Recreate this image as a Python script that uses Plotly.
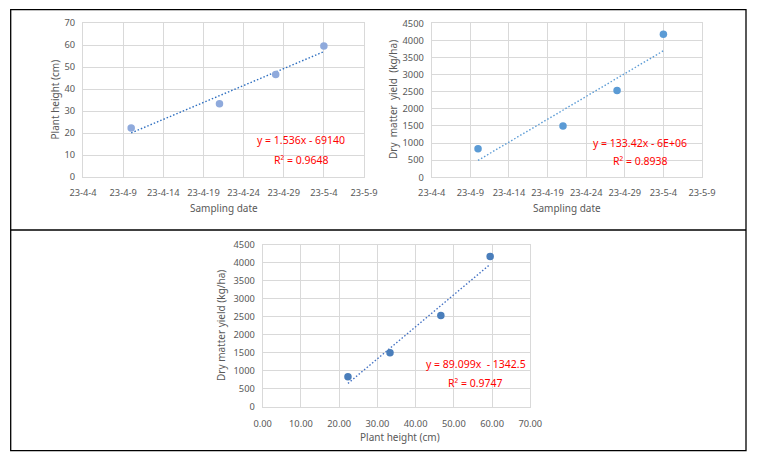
import numpy as np
import pandas as pd
import plotly.graph_objects as go

# ---------------- data ----------------
sampling_dates = ["2023-04-10", "2023-04-21", "2023-04-28", "2023-05-04"]
plant_height = [22.3, 33.3, 46.6, 59.5]
dry_matter_yield = [835, 1500, 2535, 4180]

eq_height = "y = 1.536x - 69140"
r2_height = "R² = 0.9648"
eq_yield = "y = 133.42x - 6E+06"
r2_yield = "R² = 0.8938"
eq_hy = "y = 89.099x  - 1342.5"
r2_hy = "R² = 0.9747"

height_ticks = [0, 10, 20, 30, 40, 50, 60, 70]
yield_ticks = [0, 500, 1000, 1500, 2000, 2500, 3000, 3500, 4000, 4500]
height_x_ticks = [0, 10, 20, 30, 40, 50, 60, 70]

W, H = 761, 455
TICK = "#595959"
GRID = "#D9D9D9"
FONT = "Noto Sans"
DOT = "1.5px,2px"


def px(x):
    return x / W


def py(y):
    return 1 - y / H


# trendlines (least squares on the data)
d = pd.to_datetime(sampling_dates)
days = np.array([(t - d[0]).days for t in d], dtype=float)
b1, a1 = np.polyfit(days, plant_height, 1)
b2, a2 = np.polyfit(days, dry_matter_yield, 1)
b3, a3 = np.polyfit(plant_height, dry_matter_yield, 1)
tr_days = np.array([days[0], days[-1]])
tr_dates = [d[0] + pd.Timedelta(days=float(v)) for v in tr_days]
hx = np.array([min(plant_height), max(plant_height)])

fig = go.Figure()

# top-left
fig.add_trace(go.Scatter(x=tr_dates, y=a1 + b1 * tr_days, mode="lines",
                         line=dict(color="#2E6FC0", width=1.4, dash=DOT),
                         xaxis="x", yaxis="y", showlegend=False))
fig.add_trace(go.Scatter(x=sampling_dates, y=plant_height, mode="markers",
                         marker=dict(color="#8FAADC", size=7.5),
                         xaxis="x", yaxis="y", showlegend=False))
# top-right
fig.add_trace(go.Scatter(x=tr_dates, y=a2 + b2 * tr_days, mode="lines",
                         line=dict(color="#5B9BD5", width=1.4, dash=DOT),
                         xaxis="x2", yaxis="y2", showlegend=False))
fig.add_trace(go.Scatter(x=sampling_dates, y=dry_matter_yield, mode="markers",
                         marker=dict(color="#5B9BD5", size=7.5),
                         xaxis="x2", yaxis="y2", showlegend=False))
# bottom
fig.add_trace(go.Scatter(x=hx, y=a3 + b3 * hx, mode="lines",
                         line=dict(color="#4472C4", width=1.4, dash=DOT),
                         xaxis="x3", yaxis="y3", showlegend=False))
fig.add_trace(go.Scatter(x=plant_height, y=dry_matter_yield, mode="markers",
                         marker=dict(color="#4A7EBB", size=7.5),
                         xaxis="x3", yaxis="y3", showlegend=False))

tickfont = dict(family=FONT, size=9.3, color=TICK)
common = dict(showgrid=True, gridcolor=GRID, gridwidth=1, showline=True,
              mirror=True, linecolor=GRID, linewidth=1, zeroline=False,
              ticks="", tickfont=tickfont, fixedrange=True, automargin=False)

date_axis = dict(type="date", range=["2023-04-04", "2023-05-09"],
                 tick0="2023-04-04", dtick=5 * 86400000,
                 tickformat="%y-%-m-%-d", ticklabelstandoff=7, **common)

fig.update_layout(
    width=W, height=H, margin=dict(l=0, r=0, t=0, b=0, pad=0, autoexpand=False),
    paper_bgcolor="white", plot_bgcolor="white", showlegend=False,
    xaxis=dict(domain=[px(83), px(364)], anchor="y", **date_axis),
    yaxis=dict(domain=[py(177), py(23)], anchor="x", range=[0, 70],
               tickvals=height_ticks, ticklabelstandoff=5, **common),
    xaxis2=dict(domain=[px(431.7), px(702)], anchor="y2", **date_axis),
    yaxis2=dict(domain=[py(177.3), py(23.3)], anchor="x2", range=[0, 4500],
                tickvals=yield_ticks, ticklabelstandoff=5, **common),
    xaxis3=dict(domain=[px(262.7), px(530.3)], anchor="y3", range=[0, 70],
                tickvals=height_x_ticks, tickformat=".2f",
                ticklabelstandoff=8, **common),
    yaxis3=dict(domain=[py(406.7), py(245)], anchor="x3", range=[0, 4500],
                tickvals=yield_ticks, ticklabelstandoff=5, **common),
)

ann = []
tfont = dict(family=FONT, size=10, color=TICK)
rfont = dict(family=FONT, size=10.5, color="#FF0000")


def add(text, x, y, font, angle=0):
    ann.append(dict(text=text, x=px(x), y=py(y), xref="paper", yref="paper",
                    showarrow=False, font=font, textangle=angle,
                    xanchor="center", yanchor="middle"))


nb = "\u00a0"
add("Sampling date", 223.5, 208.5, tfont)
add("Plant height (cm)", 54.5, 100, tfont, -90)
add("Sampling date", 567, 208.5, tfont)
add(f"Dry{nb}{nb}matter{nb}{nb}yield{nb}{nb}(kg/ha)", 393, 100, tfont, -90)
add("Plant height (cm)", 400, 437, tfont)
add("Dry matter yield (kg/ha)", 221, 326, tfont, -90)

add(eq_height, 300.5, 140, rfont)
add(r2_height, 301, 159.5, rfont)
add(eq_yield, 640, 142.7, rfont)
add(r2_yield, 640, 160.5, rfont)
add(eq_hy.replace("  ", nb + " "), 475.5, 363.5, rfont)
add(r2_hy, 476, 383, rfont)
fig.update_layout(annotations=ann)

# frame
line = dict(color="black", width=1.3)
fig.add_shape(type="rect", xref="paper", yref="paper",
              x0=px(10.7), x1=px(746), y0=py(450.7), y1=py(9.7), line=line)
fig.add_shape(type="line", xref="paper", yref="paper",
              x0=px(10.7), x1=px(746), y0=py(230), y1=py(230), line=line)

fig.write_html("out.html")
